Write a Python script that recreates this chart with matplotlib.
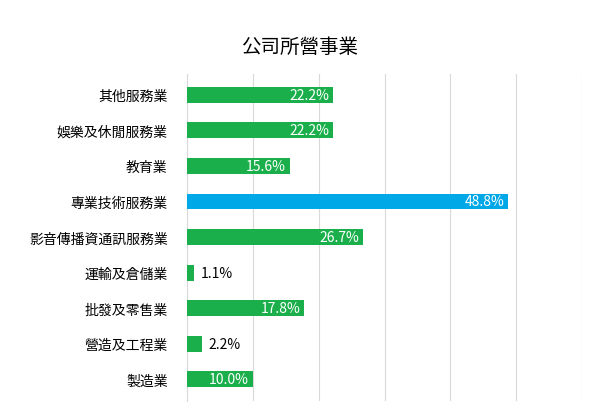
import matplotlib
matplotlib.use("Agg")
import matplotlib.pyplot as plt
from matplotlib import font_manager

names = {f.name for f in font_manager.fontManager.ttflist}
fams = [n for n in ["Noto Sans CJK TC", "Noto Sans CJK JP", "Noto Sans CJK SC", "Noto Sans CJK KR"] if n in names]
plt.rcParams["font.family"] = fams + ["DejaVu Sans"]

categories = ["其他服務業", "娛樂及休閒服務業", "教育業", "專業技術服務業", "影音傳播資通訊服務業",
              "運輸及倉儲業", "批發及零售業", "營造及工程業", "製造業"]
values = [22.2, 22.2, 15.6, 48.8, 26.7, 1.1, 17.8, 2.2, 10.0]
highlight = "專業技術服務業"

fig = plt.figure(figsize=(6, 4.14), dpi=100)
ax = fig.add_axes([0.312, 0.03, 0.658, 0.79])
y = list(range(len(categories)))[::-1]
colors = ["#00a8e8" if c == highlight else "#1aaf4b" for c in categories]
ax.barh(y, values, height=0.45, color=colors, zorder=3)
for yi, v in zip(y, values):
    if v > 5:
        ax.text(v - 0.6, yi, f"{v:.1f}%", ha="right", va="center", color="white", fontsize=10, zorder=4)
    else:
        ax.text(v + 1.0, yi, f"{v:.1f}%", ha="left", va="center", color="black", fontsize=10, zorder=4)
ax.set_xlim(0, 60)
ax.set_ylim(-0.6, len(categories) - 0.4)
ax.set_xticks(range(0, 61, 10))
ax.tick_params(axis="x", length=0, labelbottom=False)
ax.tick_params(axis="y", length=0, labelsize=10, pad=14)
ax.set_yticks(y)
ax.set_yticklabels(categories)
ax.grid(axis="x", color="#d9d9d9", linewidth=0.8, zorder=0)
for s in ["top", "right", "bottom"]:
    ax.spines[s].set_visible(False)
ax.spines["left"].set_color("#d9d9d9")
fig.text(0.5, 0.885, "公司所營事業", ha="center", va="center", fontsize=14)
fig.savefig("out.png")
